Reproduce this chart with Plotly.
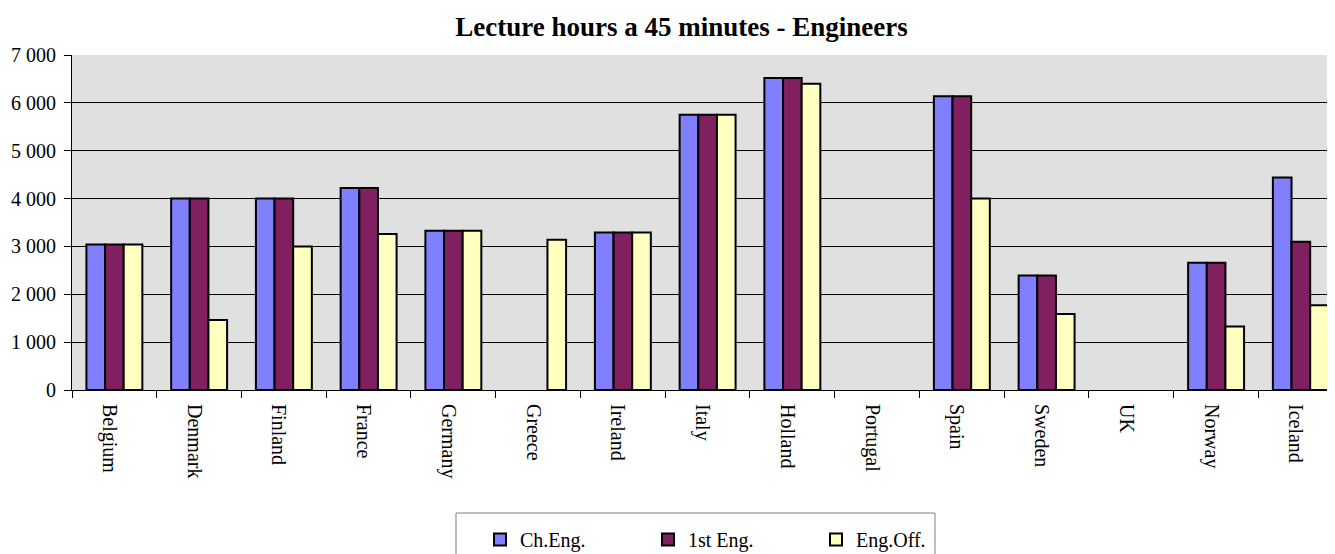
import plotly.graph_objects as go

countries = ["Belgium", "Denmark", "Finland", "France", "Germany", "Greece", "Ireland",
             "Italy", "Holland", "Portugal", "Spain", "Sweden", "UK", "Norway", "Iceland"]

ch_eng = [3040, 4000, 4000, 4220, 3330, None, 3290, 5750, 6520, None, 6140, 2390, None, 2660, 4440]
first_eng = [3040, 4000, 4000, 4220, 3330, None, 3290, 5750, 6520, None, 6140, 2390, None, 2660, 3100]
eng_off = [3040, 1465, 3000, 3260, 3330, 3140, 3290, 5750, 6400, None, 4000, 1590, None, 1325, 1770]

series = [
    ("Ch.Eng.", ch_eng, "#8080FF"),
    ("1st Eng.", first_eng, "#802060"),
    ("Eng.Off.", eng_off, "#FFFFC0"),
]

FONT = "Liberation Serif, Times New Roman, serif"
# page has an 8px body margin, so the figure is shrunk by that much
W, H = 1327, 546
L, T, B = 64, 47, 164
PW, PH = W - L, H - T - B


def px_x(x):
    return (x - 8 - L) / PW


def px_y(y):
    return (T + PH - (y - 8)) / PH


fig = go.Figure()
for name, vals, color in series:
    fig.add_trace(go.Bar(
        x=countries,
        y=vals,
        name=name,
        marker=dict(color=color, line=dict(color="black", width=2)),
    ))

fig.update_layout(
    width=W,
    height=H,
    margin=dict(l=L, r=0, t=T, b=B, autoexpand=False),
    paper_bgcolor="white",
    plot_bgcolor="#E0E0E0",
    font=dict(family=FONT, size=20, color="black"),
    separators=". ",
    barmode="group",
    bargap=0.34,
    bargroupgap=0,
    title=dict(
        text="<b>Lecture hours a 45 minutes - Engineers</b>",
        font=dict(family=FONT, size=27, color="black"),
        x=(681.5 - 8) / W, xanchor="center", xref="container",
        y=1 - 19 / H, yanchor="middle", yref="container",
    ),
    showlegend=True,
    legend=dict(
        orientation="h",
        x=472 / W, xanchor="left", xref="container",
        y=1 - 512 / H, yanchor="top", yref="container",
        borderwidth=0,
        bgcolor="rgba(0,0,0,0)",
        entrywidth=123,
        font=dict(family=FONT, size=20, color="black"),
    ),
    # legend frame
    shapes=[dict(
        type="rect", xref="paper", yref="paper",
        x0=px_x(456), x1=px_x(935), y0=px_y(513), y1=px_y(570),
        line=dict(color="#808080", width=1), fillcolor="rgba(0,0,0,0)",
        layer="below",
    )],
)

fig.update_xaxes(
    type="category",
    range=[-0.5, 14.403],
    showline=True, linecolor="black", linewidth=1,
    ticks="outside", tickson="boundaries", ticklen=7, tickcolor="black", tickwidth=1,
    tickangle=90,
    showgrid=False,
    ticklabelstandoff=9,
    ticklabelshift=-5,
)
fig.update_yaxes(
    range=[0, 7000],
    dtick=1000,
    tickformat=",d",
    showline=True, linecolor="black", linewidth=1,
    ticks="outside", ticklen=7, tickcolor="black",
    showgrid=True, gridcolor="black", gridwidth=1,
    zeroline=False,
    ticklabelstandoff=4,
)

fig.write_html("out.html")
